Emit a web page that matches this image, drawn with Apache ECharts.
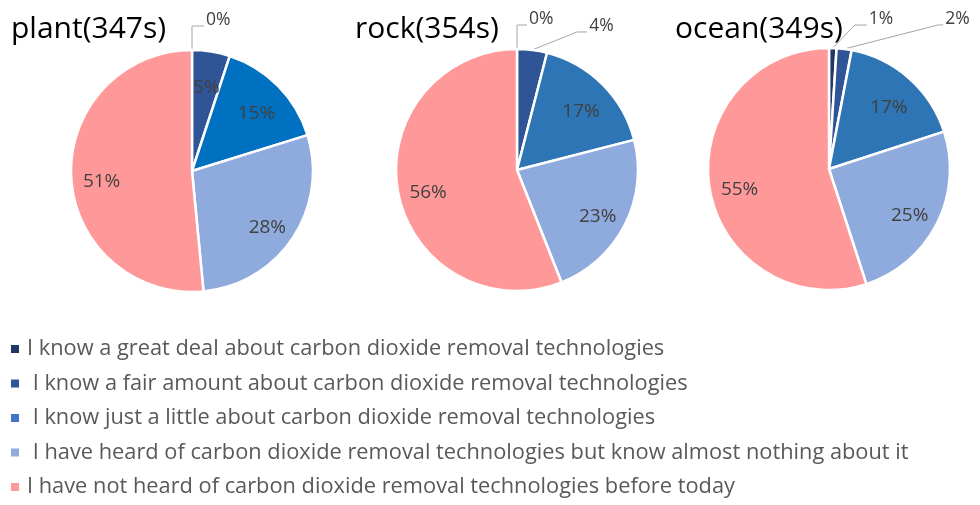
<!DOCTYPE html>
<html>
<head>
<meta charset="utf-8">
<style>
  html, body { margin: 0; padding: 0; background: #ffffff; }
  #chart { width: 980px; height: 505px; }
</style>
<script src="https://cdn.jsdelivr.net/npm/echarts@6/dist/echarts.min.js"></script>
</head>
<body>
<div id="chart"></div>
<script>
// Awareness of carbon dioxide removal technologies, by survey group
const categories = [
  'I know a great deal about carbon dioxide removal technologies',
  ' I know a fair amount about carbon dioxide removal technologies',
  ' I know just a little about carbon dioxide removal technologies',
  ' I have heard of carbon dioxide removal technologies but know almost nothing about it',
  'I have not heard of carbon dioxide removal technologies before today'
];
const groupTitles = ['plant(347s)', 'rock(354s)', 'ocean(349s)'];
const plantValues = [0, 5, 15, 28, 51];
const rockValues = [0, 4, 17, 23, 56];
const oceanValues = [1, 2, 17, 25, 55];

// Colours
const legendColors = ['#203864', '#2F5597', '#4472C4', '#8FAADC', '#FF9999'];
const plantColors = ['#203864', '#2F5597', '#0070C0', '#8FAADC', '#FF9999'];
const rockColors = ['#203864', '#2F5597', '#2E75B6', '#8FAADC', '#FF9999'];
const oceanColors = ['#203864', '#2F5597', '#2E75B6', '#8FAADC', '#FF9999'];

// Pie geometry
const FONT = 'Open Sans';
const R = 121;
const LABEL_R0 = 54;   // inner edge of the ring that carries inside labels
const pieCenters = [[192, 171], [517, 170], [829, 169]];
const titleLefts = [11, 355, 675];

// Leader lines for thin slices: elbow offset from the slice edge [dx, dy],
// then a horizontal run before the text
const leaders = [
  [{ elbow: [0, -24], run: 12 }, null, null, null, null],
  [{ elbow: [0, -24], run: 10 }, { elbow: [45, -18], run: 10 }, null, null, null],
  [{ elbow: [22, -23], run: 12 }, { elbow: [94, -24], run: 5 }, null, null, null]
];

const groups = [
  { values: plantValues, colors: plantColors },
  { values: rockValues, colors: rockColors },
  { values: oceanValues, colors: oceanColors }
];

const insideText = { color: '#404040', fontSize: 19, fontFamily: FONT };
const outsideText = { color: '#404040', fontSize: 17.5, fontFamily: FONT };
const lineColor = '#A6A6A6';

const series = [];
groups.forEach(function (g, gi) {
  const lead = leaders[gi];
  // slices, with outside labels for the thin ones
  series.push({
    type: 'pie',
    center: pieCenters[gi],
    radius: R,
    startAngle: 90,
    clockwise: true,
    avoidLabelOverlap: false,
    animation: false,
    itemStyle: { borderColor: '#ffffff', borderWidth: 2.5 },
    emphasis: { disabled: true },
    data: g.values.map(function (v, i) {
      const ld = lead[i];
      return {
        name: categories[i],
        value: v,
        itemStyle: { color: g.colors[i] },
        label: ld ? Object.assign({ show: true, position: 'outside', formatter: '{c}%' }, outsideText)
                  : { show: false },
        labelLine: ld ? { show: true, length: 20, length2: 10, smooth: false,
                          lineStyle: { color: lineColor, width: 1 } }
                      : { show: false }
      };
    }),
    // route each leader from the slice edge through an elbow to its text
    labelLayout: function (params) {
      const ld = lead[params.dataIndex];
      if (!ld || !params.labelLinePoints) return {};
      const p0 = params.labelLinePoints[0];
      const p1 = [p0[0] + ld.elbow[0], p0[1] + ld.elbow[1]];
      const p2 = [p1[0] + ld.run, p1[1]];
      return {
        x: p2[0] + 2,
        y: p2[1] - 6,
        align: 'left',
        verticalAlign: 'middle',
        labelLinePoints: [p0, p1, p2]
      };
    }
  });
  // transparent ring that carries the inside percentage labels
  series.push({
    type: 'pie',
    center: pieCenters[gi],
    radius: [LABEL_R0, R],
    startAngle: 90,
    clockwise: true,
    silent: true,
    animation: false,
    avoidLabelOverlap: false,
    itemStyle: { color: 'rgba(0,0,0,0)', borderWidth: 0 },
    emphasis: { disabled: true },
    labelLine: { show: false },
    labelLayout: { dy: 6 },
    data: g.values.map(function (v, i) {
      return {
        name: categories[i],
        value: v,
        label: lead[i] ? { show: false }
                       : Object.assign({ show: true, position: 'inside', formatter: '{c}%' }, insideText)
      };
    })
  });
});

const chart = echarts.init(document.getElementById('chart'), null, { renderer: 'canvas' });
chart.setOption({
  backgroundColor: '#ffffff',
  textStyle: { fontFamily: FONT },
  title: groupTitles.map(function (t, i) {
    return {
      text: t,
      left: titleLefts[i],
      top: 14,
      padding: 0,
      textStyle: { color: '#000000', fontSize: 30, lineHeight: 30, fontWeight: 'normal', fontFamily: FONT }
    };
  }),
  legend: {
    orient: 'vertical',
    left: 11,
    top: 338,
    padding: 0,
    icon: 'rect',
    itemWidth: 8,
    itemHeight: 8,
    itemGap: 12.5,
    selectedMode: false,
    textStyle: { color: '#595959', fontSize: 21.8, lineHeight: 22, fontFamily: FONT, padding: [0, 0, 0, 3] },
    data: categories.map(function (c, i) {
      return { name: c, itemStyle: { color: legendColors[i], borderWidth: 0 } };
    })
  },
  series: series
});
</script>
</body>
</html>
